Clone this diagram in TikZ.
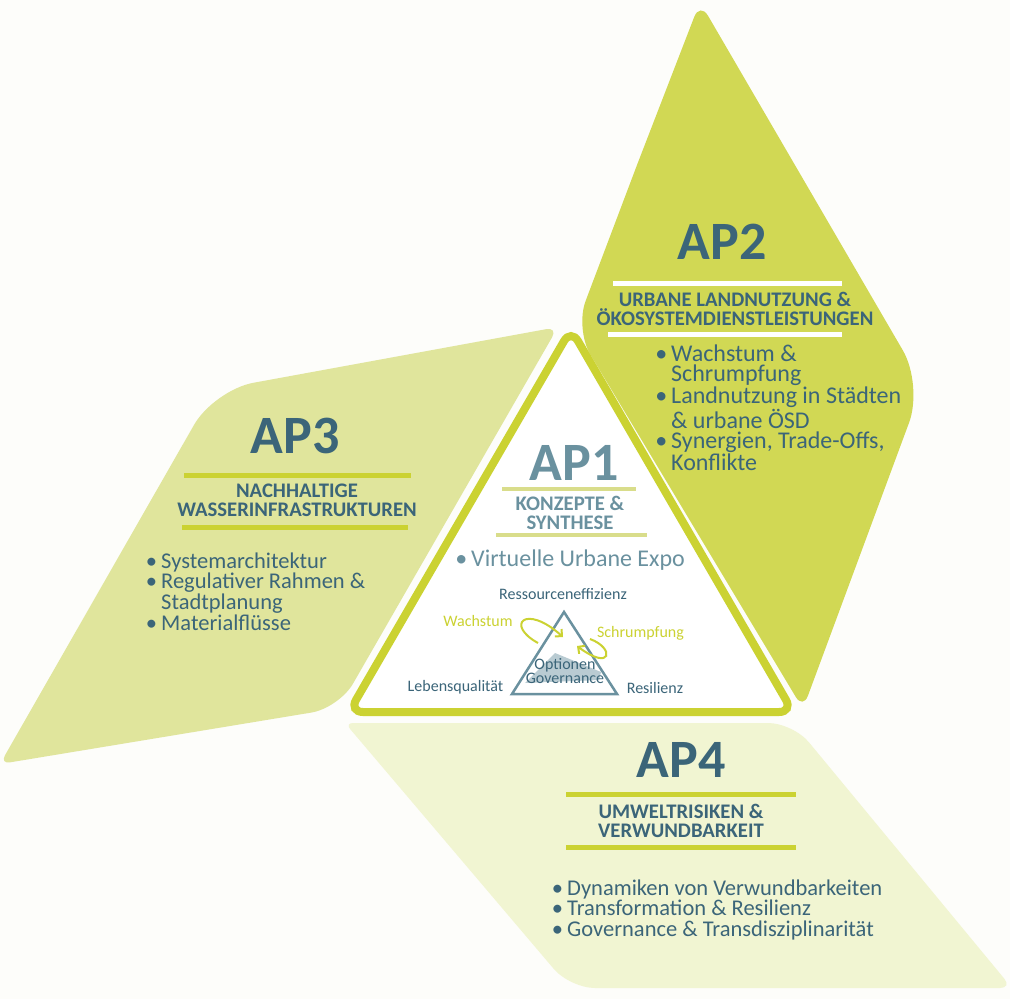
\documentclass[tikz,border=0pt]{standalone}
\usepackage{fontspec}
\setmainfont{Carlito}
\usetikzlibrary{positioning,arrows.meta}

\definecolor{tealtext}{HTML}{3B6579}
\definecolor{greytext}{HTML}{6A919F}
\definecolor{limeline}{HTML}{CBD232}
\definecolor{limetwo}{HTML}{D1D854}
\definecolor{limethree}{HTML}{E0E59C}
\definecolor{limefour}{HTML}{F1F5D2}
\definecolor{palebar}{HTML}{D9DD8B}
\definecolor{shadegrey}{HTML}{B9CBD2}
\definecolor{paper}{HTML}{FDFDFA}

\newcommand{\itm}{\llap{\textbullet\hspace{4pt}}}

\begin{document}
\begin{tikzpicture}[x=1pt,y=-1pt,
  every node/.style={inner sep=0pt},
  aptitle/.style={font=\fontsize{54}{54}\selectfont\bfseries, text=tealtext, anchor=base},
  aphead/.style={font=\fontsize{20.7}{19}\selectfont\bfseries, text=tealtext, align=center, anchor=base},
  aplist/.style={font=\fontsize{22.5}{20.8}\selectfont, text=tealtext, align=left, anchor=base west},
  bar/.style={fill=limeline, minimum height=5pt},
  tiny/.style={font=\fontsize{16}{11.6}\selectfont, text=tealtext, anchor=base},
  loop/.style={limeline, line width=2pt, -{Straight Barb[length=5pt,width=10pt]}}]

  \fill[paper] (0,0) rectangle (1010,999);
  \useasboundingbox (0,0) rectangle (1010,999);

  % the four work packages (radius given before each corner)
  \fill[limethree] (107,577) [rounded corners=40] -- (214,390) [rounded corners=12] -- (558,327) [rounded corners=28] -- (339,708) [rounded corners=10] -- (0,764) [sharp corners] -- cycle;
  \fill[limetwo] (637,165) [rounded corners=16] -- (700,2) [rounded corners=40] -- (923,385) [rounded corners=14] -- (803,709) [rounded corners=30] -- (575,329) [sharp corners] -- cycle;
  \fill[limefour] (569,723) [rounded corners=25] -- (793,723) [rounded corners=12] -- (1012,988) [rounded corners=25] -- (570,988) [rounded corners=8] -- (345,723) [sharp corners] -- cycle;
  \draw[limeline, line width=8pt, fill=white, rounded corners=14] (571,329) -- (793,712) -- (349,712) -- cycle;

  % AP2
  \node[aptitle] (ap2) at (722,259) {AP2};
  \node[bar, fill=white, minimum width=229pt] (ap2bar) at (727.5,283) {};
  \node[aphead] (ap2head) at (735,325) {URBANE LANDNUTZUNG \&\\ÖKOSYSTEMDIENSTLEISTUNGEN};
  \node[bar, fill=white, minimum width=234pt] (ap2rule) at (725,334) {};
  \node[aplist, font=\fontsize{24}{20.7}\selectfont] (ap2list) at (671,470.5)
    {\itm Wachstum \&\\Schrumpfung\\\itm Landnutzung in Städten\\\& urbane ÖSD\\\itm Synergien, Trade-Offs,\\Konflikte};

  % AP3
  \node[aptitle] (ap3) at (295,453) {AP3};
  \node[bar, minimum width=227pt] (ap3bar) at (297,475) {};
  \node[aphead] (ap3head) at (297,516.7) {NACHHALTIGE\\WASSERINFRASTRUKTUREN};
  \node[bar, minimum width=226pt] (ap3rule) at (295,527) {};
  \node[aplist] (ap3list) at (161,630.4)
    {\itm Systemarchitektur\\\itm Regulativer Rahmen \&\\Stadtplanung\\\itm Materialflüsse};

  % AP4
  \node[aptitle] (ap4) at (681,777) {AP4};
  \node[bar, minimum width=230pt] (ap4bar) at (681,794) {};
  \node[aphead] (ap4head) at (681,837) {UMWELTRISIKEN \&\\VERWUNDBARKEIT};
  \node[bar, minimum width=230pt] (ap4rule) at (681,847) {};
  \node[aplist] (ap4list) at (567,936.6)
    {\itm Dynamiken von Verwundbarkeiten\\\itm Transformation \& Resilienz\\\itm Governance \& Transdisziplinarität};

  % AP1
  \node[aptitle, text=greytext] (ap1) at (574,480) {AP1};
  \node[bar, fill=palebar, minimum width=134pt, minimum height=4pt] (ap1bar) at (569,489) {};
  \node[aphead, text=greytext] (ap1head) at (570,529) {KONZEPTE \&\\SYNTHESE};
  \node[bar, fill=palebar, minimum width=151pt, minimum height=4pt] (ap1rule) at (571.5,535) {};
  \node[aplist, font=\fontsize{24}{20.7}\selectfont, text=greytext] (expo) at (471,566) {\itm Virtuelle Urbane Expo};

  % small triangle
  \fill[shadegrey] (525,683) -- (555,653) -- (601,672) -- (599,680) -- cycle;
  \draw[greytext, line width=2.5pt] (564,612) -- (617,694) -- (512,694) -- cycle;
  \node[tiny] (effizienz) at (563,599) {Ressourceneffizienz};
  \node[tiny] (lebensq) at (455.5,691.7) {Lebensqualität};
  \node[tiny] (resilienz) at (655,693) {Resilienz};
  \node[tiny, align=center] (optionen) at (565,683.3) {Optionen\\Governance};
  \node[tiny, text=limeline] (wachstum) at (478,626) {Wachstum};
  \node[tiny, text=limeline] (schrumpf) at (640.5,637) {Schrumpfung};

  \coordinate (grow-a) at (538,643);
  \coordinate (grow-b) at (563,637);
  \coordinate (shrink-a) at (590,639);
  \coordinate (shrink-b) at (577,646);
  \draw[loop] (grow-a) .. controls (505,625) and (525,603) .. (grow-b);
  \draw[loop] (shrink-a) .. controls (615,648) and (612,672) .. (shrink-b);

\end{tikzpicture}
\end{document}
